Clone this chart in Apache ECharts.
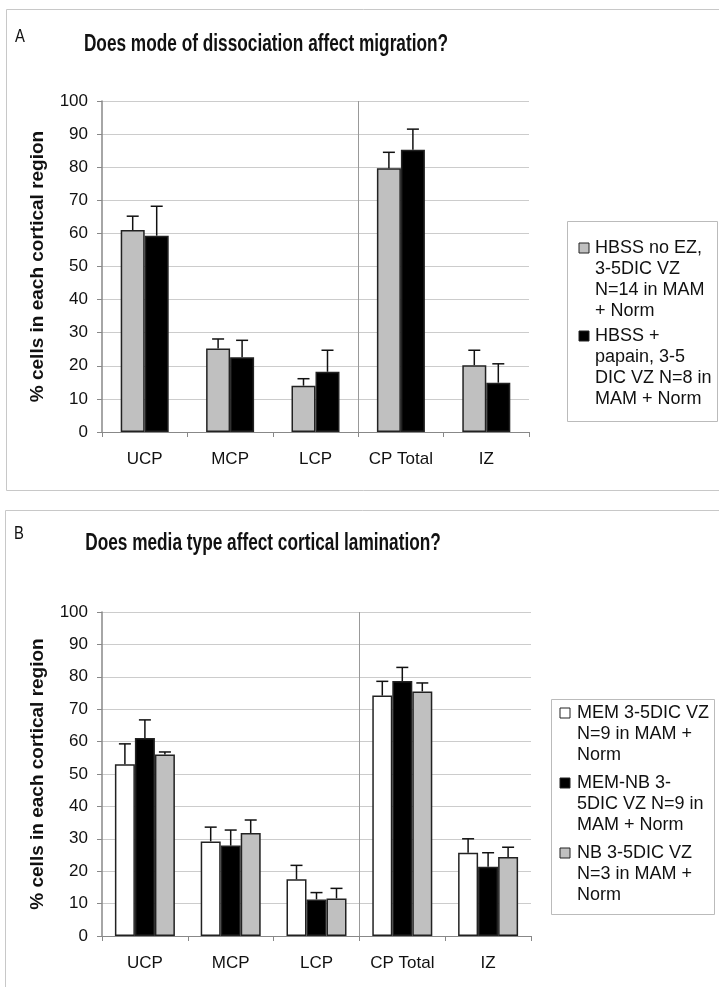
<!DOCTYPE html>
<html>
<head>
<meta charset="utf-8">
<script src="https://cdn.jsdelivr.net/npm/echarts@6/dist/echarts.min.js"></script>
<style>
  html, body { margin: 0; padding: 0; background: #fff; }
  #chart { width: 719px; height: 987px; }
</style>
</head>
<body>
<div id="chart"></div>
<script>
// categories shared by both panels
var categories = ['UCP', 'MCP', 'LCP', 'CP Total', 'IZ'];
// index of the category that gets a vertical divider on its left side
var dividerBefore = 3;

// panel A - mode of dissociation
var hbssNoEz = [61.0, 25.2, 14.0, 79.7, 20.2];
var hbssNoEzErr = [4.2, 2.9, 2.1, 4.8, 4.5];
var hbssPapain = [59.3, 22.6, 18.2, 85.3, 14.9];
var hbssPapainErr = [8.9, 5.1, 6.5, 6.2, 5.7];

// panel B - media type
var memOnly = [53.0, 29.2, 17.5, 74.2, 25.7];
var memOnlyErr = [6.3, 4.4, 4.3, 4.4, 4.3];
var memNb = [61.1, 27.9, 11.3, 78.7, 21.4];
var memNbErr = [5.6, 4.8, 2.1, 4.2, 4.3];
var nbOnly = [56.0, 31.8, 11.6, 75.5, 24.4];
var nbOnlyErr = [0.8, 4.0, 3.1, 2.6, 3.0];

var legendA = [
  { color: '#c0c0c0', lines: ['HBSS no EZ,', '3-5DIC VZ', 'N=14 in MAM', '+ Norm'] },
  { color: '#000000', lines: ['HBSS +', 'papain, 3-5', 'DIC VZ N=8 in', 'MAM + Norm'] }
];
var legendB = [
  { color: '#ffffff', lines: ['MEM 3-5DIC VZ', 'N=9 in MAM +', 'Norm'] },
  { color: '#000000', lines: ['MEM-NB 3-', '5DIC VZ N=9 in', 'MAM + Norm'] },
  { color: '#c0c0c0', lines: ['NB 3-5DIC VZ', 'N=3 in MAM +', 'Norm'] }
];

var font = '"Liberation Sans", Arial, sans-serif';

var chart = echarts.init(document.getElementById('chart'));

function xAxisFor(grid) {
  return {
    type: 'category', gridIndex: grid, data: categories,
    axisLine: { show: true, lineStyle: { color: '#888', width: 1 } },
    axisTick: { show: true, length: 5, lineStyle: { color: '#888' } },
    axisLabel: { color: '#111', fontSize: 17, fontFamily: font, margin: 19 },
    splitLine: { show: false }
  };
}

function yAxisFor(grid) {
  return {
    type: 'value', gridIndex: grid, min: 0, max: 100, interval: 10,
    name: '% cells in each cortical region', nameLocation: 'middle', nameGap: 55,
    nameTextStyle: { color: '#111', fontSize: 19, fontWeight: 'bold', fontFamily: font },
    axisLine: { show: true, lineStyle: { color: '#888', width: 1.5 } },
    axisTick: { show: true, length: 5, lineStyle: { color: '#888' } },
    axisLabel: { color: '#111', fontSize: 17, fontFamily: font, margin: 14 },
    splitLine: { show: true, lineStyle: { color: '#cccccc', width: 1 } }
  };
}

function barSeries(name, grid, values, color, width) {
  return {
    type: 'bar', name: name, xAxisIndex: grid, yAxisIndex: grid,
    data: values, barWidth: width, barGap: '0%',
    itemStyle: { color: color, borderColor: '#222', borderWidth: 1.5 },
    silent: true
  };
}

function errorSeries(grid, values, errs, offset) {
  return {
    type: 'custom', xAxisIndex: grid, yAxisIndex: grid, z: 5, silent: true,
    data: values.map(function (v, i) { return [i, v, v + errs[i]]; }),
    encode: { x: 0, y: 2 },
    renderItem: function (params, api) {
      var base = api.coord([api.value(0), api.value(1)]);
      var top = api.coord([api.value(0), api.value(2)]);
      var x = base[0] + offset;
      var st = { stroke: '#111', lineWidth: 1.5 };
      return {
        type: 'group',
        children: [
          { type: 'line', shape: { x1: x, y1: base[1], x2: x, y2: top[1] }, style: st },
          { type: 'line', shape: { x1: x - 6, y1: top[1], x2: x + 6, y2: top[1] }, style: st }
        ]
      };
    }
  };
}

// thin vertical rule on the category boundary
function dividerSeries(grid) {
  return {
    type: 'custom', xAxisIndex: grid, yAxisIndex: grid, z: 1, silent: true,
    data: [[dividerBefore, 0]],
    renderItem: function (params, api) {
      var c = api.coord([api.value(0), 0]);
      var w = api.size([1, 0])[0];
      var x = Math.round(c[0] - w / 2) + 0.5;
      var cs = params.coordSys;
      return {
        type: 'line',
        shape: { x1: x, y1: cs.y, x2: x, y2: cs.y + cs.height },
        style: { stroke: '#999', lineWidth: 1 }
      };
    }
  };
}

// legend box drawn as graphics so the marker sits on the first text line
function legendBox(x, y, w, h, items, markX, textX, firstY, lineH, blockGap) {
  var els = [{
    type: 'rect', shape: { x: x, y: y, width: w, height: h },
    style: { fill: '#fff', stroke: '#bbb', lineWidth: 1 }
  }];
  var cy = firstY;
  items.forEach(function (it) {
    els.push({
      type: 'rect', shape: { x: markX, y: cy - 5, width: 10, height: 10 },
      style: { fill: it.color, stroke: '#222', lineWidth: 1 }
    });
    it.lines.forEach(function (ln) {
      els.push({
        type: 'text', x: textX, y: cy,
        style: { text: ln, fill: '#111', font: '18px ' + font, verticalAlign: 'middle', align: 'left' }
      });
      cy += lineH;
    });
    cy += blockGap;
  });
  return els;
}

// condensed look for titles and panel letters
function narrowText(x, y, text, css, sx) {
  return {
    type: 'text', x: x, y: y, scaleX: sx,
    style: { text: text, fill: '#111', font: css, align: 'center', verticalAlign: 'middle' }
  };
}

var graphics = [
  { type: 'rect', shape: { x: 6.5, y: 9.5, width: 730, height: 481 }, style: { fill: 'none', stroke: '#c8c8c8', lineWidth: 1 } },
  { type: 'rect', shape: { x: 5.5, y: 510.5, width: 730, height: 500 }, style: { fill: 'none', stroke: '#c8c8c8', lineWidth: 1 } },
  narrowText(20, 37, 'A', '19px ' + font, 0.78),
  narrowText(19, 534, 'B', '19px ' + font, 0.78),
  narrowText(266, 45, 'Does mode of dissociation affect migration?', 'bold 23px ' + font, 0.75),
  narrowText(263, 544, 'Does media type affect cortical lamination?', 'bold 23px ' + font, 0.75)
].concat(
  legendBox(567.5, 221.5, 150, 200, legendA, 579, 595, 248, 21, 4),
  legendBox(551.5, 699.5, 163, 215, legendB, 560, 577, 713, 21, 7)
);

var option = {
  animation: false,
  backgroundColor: '#fff',
  grid: [
    { left: 102, top: 101, width: 427, height: 331 },
    { left: 102, top: 612, width: 429, height: 324 }
  ],
  xAxis: [xAxisFor(0), xAxisFor(1)],
  yAxis: [yAxisFor(0), yAxisFor(1)],
  series: [
    dividerSeries(0),
    barSeries('HBSS no EZ', 0, hbssNoEz, '#c0c0c0', 24),
    barSeries('HBSS + papain', 0, hbssPapain, '#000000', 24),
    errorSeries(0, hbssNoEz, hbssNoEzErr, -12),
    errorSeries(0, hbssPapain, hbssPapainErr, 12),
    dividerSeries(1),
    barSeries('MEM', 1, memOnly, '#ffffff', 20),
    barSeries('MEM-NB', 1, memNb, '#000000', 20),
    barSeries('NB', 1, nbOnly, '#c0c0c0', 20),
    errorSeries(1, memOnly, memOnlyErr, -20),
    errorSeries(1, memNb, memNbErr, 0),
    errorSeries(1, nbOnly, nbOnlyErr, 20)
  ],
  graphic: graphics
};

chart.setOption(option);
</script>
</body>
</html>
